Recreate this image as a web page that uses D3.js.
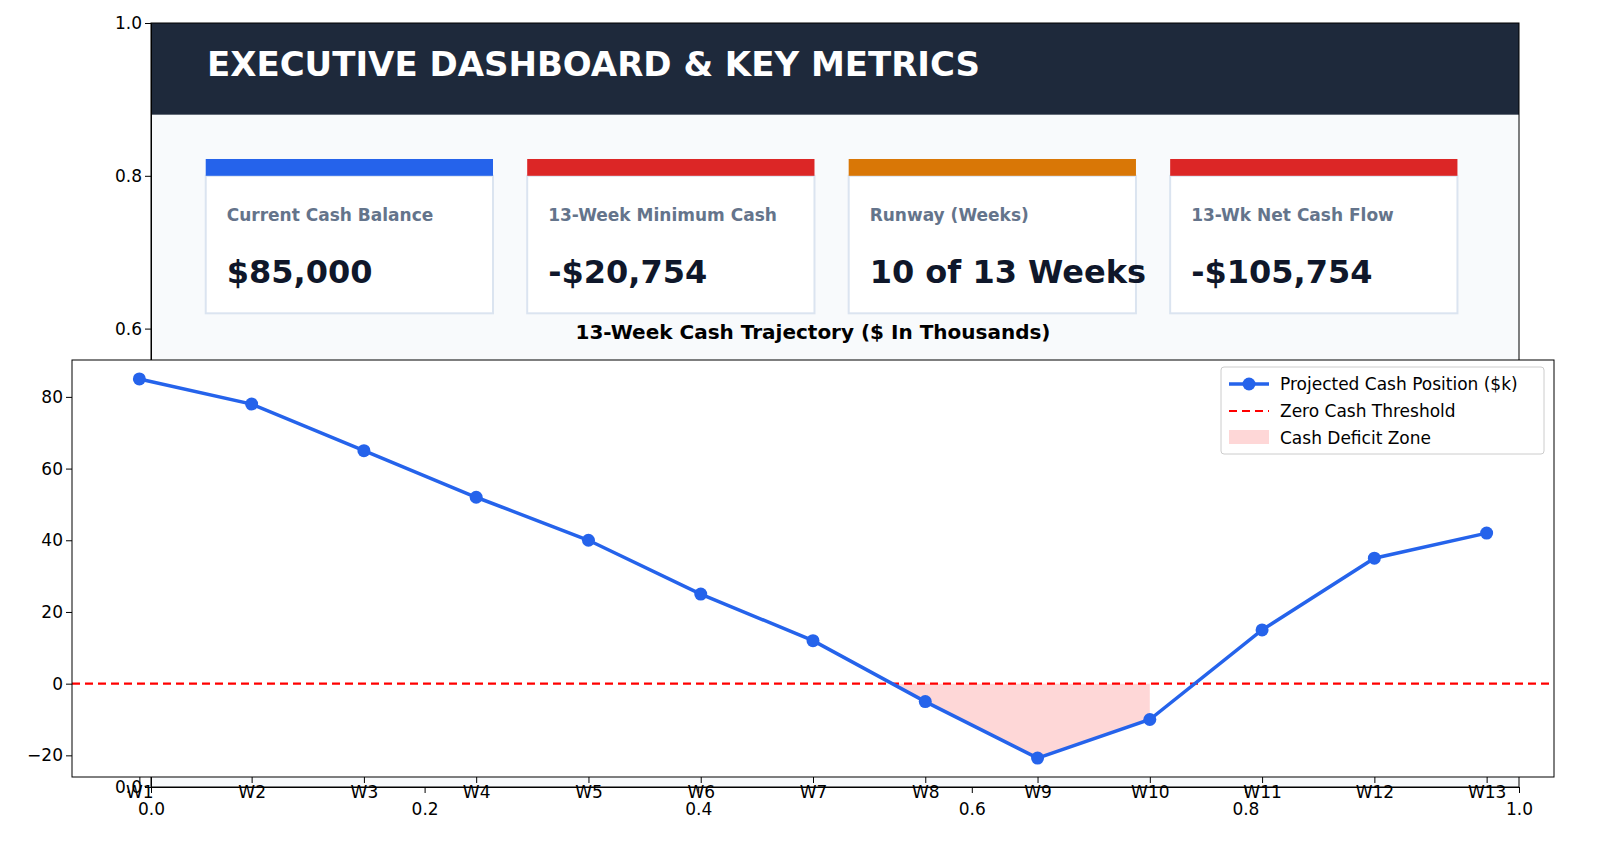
<!DOCTYPE html>
<html><head><meta charset="utf-8">
<script src="https://cdn.jsdelivr.net/npm/d3@7"></script>
<style>body{margin:0;background:#fff}text{font-family:"DejaVu Sans",sans-serif}</style>
</head><body>
<svg width="1600" height="853"></svg>
<script>
const weeks = ['W1','W2','W3','W4','W5','W6','W7','W8','W9','W10','W11','W12','W13']
const cash = [85, 78, 65, 52, 40, 25, 12, -5, -20.754, -10, 15, 35, 42]
const cardLabels = ['Current Cash Balance', '13-Week Minimum Cash', 'Runway (Weeks)', '13-Wk Net Cash Flow']
const cardValues = ['$85,000', '-$20,754', '10 of 13 Weeks', '-$105,754']
const cardColors = ['#2563eb', '#dc2626', '#d97706', '#dc2626']
const bgTicks = [0, 0.2, 0.4, 0.6, 0.8, 1.0]

const svg = d3.select('svg')

// background figure axes (0..1)
const bx = d3.scaleLinear().domain([0, 1]).range([151, 1519])
const by = d3.scaleLinear().domain([0, 1]).range([787, 23])
const bg = svg.append('g')
bg.append('rect').attr('x', bx(0)).attr('y', by(0.88)).attr('width', bx(1) - bx(0)).attr('height', by(0) - by(0.88)).attr('fill', '#f8fafc')
bg.append('rect').attr('x', bx(0)).attr('y', by(1)).attr('width', bx(1) - bx(0)).attr('height', by(0.88) - by(1)).attr('fill', '#1e293b')
bg.append('text').attr('x', 207).attr('y', 76).attr('fill', '#fff').attr('font-size', 34).attr('font-weight', 'bold').text('EXECUTIVE DASHBOARD & KEY METRICS')

const cardX = [0.04, 0.275, 0.51, 0.745]
cardX.forEach((c, i) => {
  const x0 = bx(c), w = bx(c + 0.21) - bx(c)
  bg.append('rect').attr('x', x0).attr('y', by(0.8)).attr('width', w).attr('height', by(0.62) - by(0.8))
    .attr('fill', '#fff').attr('stroke', '#dbe4f0').attr('stroke-width', 2)
  bg.append('rect').attr('x', x0).attr('y', by(0.822)).attr('width', w).attr('height', by(0.8) - by(0.822)).attr('fill', cardColors[i])
  bg.append('text').attr('x', x0 + 21).attr('y', 221).attr('fill', '#64748b').attr('font-size', 17).attr('font-weight', 'bold').text(cardLabels[i])
  bg.append('text').attr('x', x0 + 21).attr('y', 283).attr('fill', '#0f172a').attr('font-size', 32).attr('font-weight', 'bold').text(cardValues[i])
})
bg.append('g').attr('transform', `translate(${bx(0)},0)`).call(d3.axisLeft(by).tickValues(bgTicks).tickFormat(d3.format('.1f')).tickSizeOuter(0))
  .call(a => a.selectAll('text').attr('font-size', 17).attr('fill', '#000'))
bg.append('g').attr('transform', `translate(0,${by(0)})`).call(d3.axisBottom(bx).tickValues(bgTicks).tickFormat(d3.format('.1f')).tickSizeOuter(0))
  .call(a => a.selectAll('text').attr('font-size', 17).attr('fill', '#000').attr('dy', '1.1em'))
bg.append('rect').attr('x', bx(0)).attr('y', by(1)).attr('width', bx(1) - bx(0)).attr('height', by(0) - by(1)).attr('fill', 'none').attr('stroke', '#000')

bg.append('text').attr('x', 813).attr('y', 339).attr('text-anchor', 'middle').attr('font-size', 20).attr('font-weight', 'bold').text('13-Week Cash Trajectory ($ In Thousands)')

// chart axes
const L = 72, R = 1554, T = 360, B = 777
const x = d3.scaleLinear().domain([-0.6, 12.6]).range([L, R])
const y = d3.scaleLinear().domain([-26.04, 90.29]).range([B, T])
const g = svg.append('g')
g.append('rect').attr('x', L).attr('y', T).attr('width', R - L).attr('height', B - T).attr('fill', '#fff')

// deficit zone
const tCross = cash[6] / (cash[6] - cash[7])
const zone = [[6 + tCross, 0], [7, cash[7]], [8, cash[8]], [9, cash[9]], [9, 0]]
g.append('path').datum(zone).attr('fill', '#fecaca').attr('opacity', 0.75)
  .attr('d', d3.area().x(d => x(d[0])).y0(y(0)).y1(d => y(d[1])))

g.append('line').attr('x1', L).attr('x2', R).attr('y1', y(0)).attr('y2', y(0))
  .attr('stroke', '#ff0000').attr('stroke-width', 2.2).attr('stroke-dasharray', '8,5')

g.append('path').datum(cash).attr('fill', 'none').attr('stroke', '#2563eb').attr('stroke-width', 3.5)
  .attr('d', d3.line().x((d, i) => x(i)).y(d => y(d)))
g.selectAll('circle.pt').data(cash).join('circle').attr('cx', (d, i) => x(i)).attr('cy', d => y(d)).attr('r', 6.5).attr('fill', '#2563eb')

g.append('g').attr('transform', `translate(${L},0)`).call(d3.axisLeft(y).tickValues([-20, 0, 20, 40, 60, 80]).tickFormat(d => d < 0 ? '\u2212' + (-d) : d).tickSizeOuter(0))
  .call(a => { a.select('.domain').remove(); a.selectAll('text').attr('font-size', 17).attr('fill', '#000') })
g.append('g').attr('transform', `translate(0,${B})`).call(d3.axisBottom(x).tickValues(d3.range(13)).tickFormat(i => weeks[i]).tickSizeOuter(0))
  .call(a => { a.select('.domain').remove(); a.selectAll('text').attr('font-size', 17).attr('fill', '#000') })
g.append('rect').attr('x', L).attr('y', T).attr('width', R - L).attr('height', B - T).attr('fill', 'none').attr('stroke', '#000')

// legend
const lg = g.append('g').attr('transform', 'translate(1221,367)')
lg.append('rect').attr('width', 323).attr('height', 87).attr('fill', '#fff').attr('stroke', '#ccc').attr('rx', 3)
lg.append('line').attr('x1', 8).attr('x2', 48).attr('y1', 17).attr('y2', 17).attr('stroke', '#2563eb').attr('stroke-width', 3.5)
lg.append('circle').attr('cx', 28).attr('cy', 17).attr('r', 6.5).attr('fill', '#2563eb')
lg.append('line').attr('x1', 8).attr('x2', 48).attr('y1', 44).attr('y2', 44).attr('stroke', '#ff0000').attr('stroke-width', 2.2).attr('stroke-dasharray', '8,5')
lg.append('rect').attr('x', 8).attr('y', 63).attr('width', 40).attr('height', 14).attr('fill', '#fecaca').attr('opacity', 0.75)
;['Projected Cash Position ($k)', 'Zero Cash Threshold', 'Cash Deficit Zone'].forEach((t, i) => {
  lg.append('text').attr('x', 59).attr('y', 23 + i * 27).attr('font-size', 17).text(t)
})
</script>
</body></html>
